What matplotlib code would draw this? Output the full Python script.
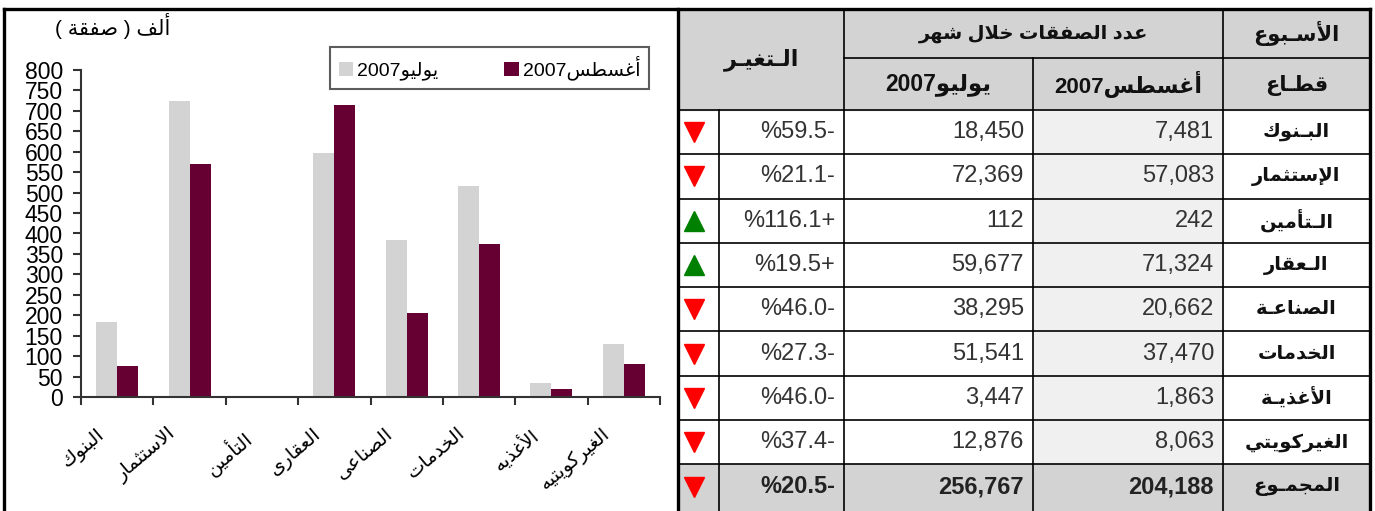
import numpy as np
import matplotlib
matplotlib.use("Agg")
import matplotlib.pyplot as plt
from matplotlib.patches import Rectangle

plt.rcParams['font.family'] = ['Liberation Sans', 'DejaVu Sans']

# data
chart_labels = ['البنوك', 'الاستثمار', 'التأمين', 'العقارى', 'الصناعى', 'الخدمات', 'الأغذيه', 'الغيركويتيه']
table_labels = ['البـنوك', 'الإستثمار', 'الـتأمين', 'الـعقار', 'الصناعـة', 'الخدمات', 'الأغذيـة', 'الغيركويتي']
aug_2007 = [7481, 57083, 242, 71324, 20662, 37470, 1863, 8063]
jul_2007 = [18450, 72369, 112, 59677, 38295, 51541, 3447, 12876]
y_ticks = list(range(0, 801, 50))

GRAY = '#d3d3d3'
MAROON = '#660033'

# --- minimal arabic shaping + rtl ordering (matplotlib has none) ---
_letters = [('ء', 0xFE80, 1), ('آ', 0xFE81, 2), ('أ', 0xFE83, 2), ('ؤ', 0xFE85, 2), ('إ', 0xFE87, 2),
            ('ئ', 0xFE89, 4), ('ا', 0xFE8D, 2), ('ب', 0xFE8F, 4), ('ة', 0xFE93, 2), ('ت', 0xFE95, 4),
            ('ث', 0xFE99, 4), ('ج', 0xFE9D, 4), ('ح', 0xFEA1, 4), ('خ', 0xFEA5, 4), ('د', 0xFEA9, 2),
            ('ذ', 0xFEAB, 2), ('ر', 0xFEAD, 2), ('ز', 0xFEAF, 2), ('س', 0xFEB1, 4), ('ش', 0xFEB5, 4),
            ('ص', 0xFEB9, 4), ('ض', 0xFEBD, 4), ('ط', 0xFEC1, 4), ('ظ', 0xFEC5, 4), ('ع', 0xFEC9, 4),
            ('غ', 0xFECD, 4), ('ف', 0xFED1, 4), ('ق', 0xFED5, 4), ('ك', 0xFED9, 4), ('ل', 0xFEDD, 4),
            ('م', 0xFEE1, 4), ('ن', 0xFEE5, 4), ('ه', 0xFEE9, 4), ('و', 0xFEED, 2), ('ى', 0xFEEF, 2),
            ('ي', 0xFEF1, 4)]
FORMS = {c: (s, n) for c, s, n in _letters}
LAMALEF = {'آ': 0xFEF5, 'أ': 0xFEF7, 'إ': 0xFEF9, 'ا': 0xFEFB}
TATWEEL = 'ـ'


def _joins_next(c):
    return c == TATWEEL or (c in FORMS and FORMS[c][1] == 4)


def _is_ar(c):
    return c == TATWEEL or c in FORMS


def shape(s):
    out = []
    i = 0
    while i < len(s):
        c = s[i]
        jp = i > 0 and _joins_next(s[i - 1])
        if c == 'ل' and i + 1 < len(s) and s[i + 1] in LAMALEF:
            out.append(chr(LAMALEF[s[i + 1]] + (1 if jp else 0)))
            i += 2
            continue
        if c not in FORMS:
            out.append(c)
            i += 1
            continue
        start, n = FORMS[c]
        jn = n == 4 and i + 1 < len(s) and _is_ar(s[i + 1])
        if n == 1:
            f = 0
        elif n == 2:
            f = 1 if jp else 0
        else:
            f = {(False, False): 0, (True, False): 1, (False, True): 2, (True, True): 3}[(jp, jn)]
        out.append(chr(start + f))
        i += 1
    return ''.join(out)


def ar(s):
    s = shape(s)
    runs = []
    for c in s:
        ltr = c in '0123456789'
        if runs and runs[-1][0] == ltr:
            runs[-1][1].append(c)
        else:
            runs.append([ltr, [c]])
    mirror = {'(': ')', ')': '('}
    out = ''
    for ltr, chars in reversed(runs):
        if ltr:
            out += ''.join(chars)
        else:
            out += ''.join(mirror.get(c, c) for c in reversed(chars))
    return out


W, H = 1375, 511
fig = plt.figure(figsize=(W / 100, H / 100), dpi=100)

# ---------------- bar chart ----------------
ax = fig.add_axes([81 / W, 1 - 397 / H, (660 - 81) / W, (397 - 70) / H])
x = np.arange(len(chart_labels))
jul_k = np.array(jul_2007) / 100
aug_k = np.array(aug_2007) / 100
bw = 0.29
ax.bar(x - bw / 2, jul_k, bw, color=GRAY, label=ar('يوليو2007'))
ax.bar(x + bw / 2, aug_k, bw, color=MAROON, label=ar('أغسطس2007'))
ax.set_xlim(-0.5, len(chart_labels) - 0.5)
ax.set_ylim(0, 800)
ax.set_yticks(y_ticks)
ax.set_yticklabels([str(v) for v in y_ticks], fontsize=16.5)
ax.set_xticks(np.arange(len(chart_labels) + 1) - 0.5)
ax.set_xticklabels([])
ax.set_xticks(x - 0.3, minor=True)
ax.set_xticklabels([ar(l) for l in chart_labels], minor=True, rotation=40,
                   ha='right', rotation_mode='anchor', fontsize=14)
ax.tick_params(axis='x', which='minor', length=0, pad=20)
ax.tick_params(axis='x', which='major', length=6, width=1.5, color='#333333')
ax.tick_params(axis='y', length=6, width=1.5, color='#333333', pad=7)
for side in ['top', 'right']:
    ax.spines[side].set_visible(False)
for side in ['left', 'bottom']:
    ax.spines[side].set_color('#333333')
    ax.spines[side].set_linewidth(1.5)

leg = ax.legend(loc='upper left', bbox_to_anchor=(330 / W, 1 - 47 / H), bbox_transform=fig.transFigure,
                ncol=2, fontsize=14, frameon=True, fancybox=False, borderaxespad=0,
                handlelength=0.75, handleheight=0.75, handletextpad=0.2, columnspacing=3.4,
                borderpad=0.45)
leg.get_frame().set_edgecolor('#333333')
leg.get_frame().set_linewidth(1.5)

fig.text(55 / W, 1 - 26 / H, ar('ألف ( صفقة )'), fontsize=15, va='center', ha='left')

# ---------------- table ----------------
tx = fig.add_axes([0, 0, 1, 1])
tx.set_xlim(0, W)
tx.set_ylim(H, 0)
tx.axis('off')

c_left, c_arrow, c_pct, c_jul, c_aug, c_right = 679, 719, 844, 1033, 1223, 1370
top, hmid, hbot = 9, 58, 110
row_h = 44.3
n_rows = len(table_labels) + 1

# backgrounds
tx.add_patch(Rectangle((c_left, top), c_right - c_left, hbot - top, color=GRAY, zorder=0))
for r in range(len(table_labels)):
    tx.add_patch(Rectangle((c_jul, hbot + r * row_h), c_aug - c_jul, row_h, color='#f0f0f0', zorder=0))
tx.add_patch(Rectangle((c_left, hbot + len(table_labels) * row_h), c_right - c_left, row_h + 5,
                       color=GRAY, zorder=0))

lk = dict(color='black', lw=1.2, zorder=2)
for r in range(n_rows):
    yy = hbot + r * row_h
    tx.plot([c_left, c_right], [yy, yy], **lk)
tx.plot([c_pct, c_right], [hmid, hmid], **lk)
tx.plot([c_pct, c_pct], [top, H], **lk)
tx.plot([c_aug, c_aug], [top, H], **lk)
tx.plot([c_jul, c_jul], [hmid, H], **lk)
tx.plot([c_arrow, c_arrow], [hbot, H], **lk)

# outer thick borders
bk = dict(color='black', lw=2.4, zorder=3, solid_capstyle='projecting')
tx.plot([4, c_right], [top, top], **bk)
tx.plot([4, 4], [top, H], **bk)
tx.plot([c_left - 1, c_left - 1], [top, H], **bk)
tx.plot([c_right, c_right], [top, H], **bk)

hk = dict(fontweight='bold', ha='center', va='center', color='#111111', zorder=4)
tx.text((c_aug + c_right) / 2, (top + hmid) / 2, ar('الأسـبوع'), fontsize=15, **hk)
tx.text((c_aug + c_right) / 2, (hmid + hbot) / 2 + 2, ar('قطـاع'), fontsize=15, **hk)
tx.text((c_pct + c_aug) / 2, (top + hmid) / 2, ar('عدد الصفقات خلال شهر'), fontsize=14, **hk)
tx.text((c_pct + c_jul) / 2, (hmid + hbot) / 2, ar('يوليو2007'), fontsize=16.5, **hk)
tx.text((c_jul + c_aug) / 2, (hmid + hbot) / 2, ar('أغسطس2007'), fontsize=16, **hk)
tx.text((c_left + c_pct) / 2, (top + hbot) / 2, ar('الـتغيـر'), fontsize=16, **hk)


def pct(a, j):
    c = (a - j) / j * 100
    return '%' + f'{abs(c):.1f}' + ('+' if c > 0 else '-')


names = table_labels + ['المجمـوع']
augs = aug_2007 + [sum(aug_2007)]
juls = jul_2007 + [sum(jul_2007)]
for r, (nm, a, j) in enumerate(zip(names, augs, juls)):
    yc = hbot + (r + 0.5) * row_h
    total = r == len(table_labels)
    w = 'bold' if total else 'normal'
    col = '#222222' if total else '#333333'
    tx.text((c_aug + c_right) / 2, yc, ar(nm), fontsize=14, fontweight='bold', ha='center', va='center',
            color='#111111', zorder=4)
    tx.text(c_aug - 9, yc, f'{a:,}', fontsize=17, fontweight=w, ha='right', va='center', color=col, zorder=4)
    tx.text(c_jul - 9, yc, f'{j:,}', fontsize=17, fontweight=w, ha='right', va='center', color=col, zorder=4)
    tx.text(c_pct - 9, yc, pct(a, j), fontsize=17, fontweight=w, ha='right', va='center', color=col, zorder=4)
    up = a > j
    tx.plot(694, yc, marker='^' if up else 'v', markersize=14,
            color='#008000' if up else '#ff0000', zorder=4)

fig.savefig('out.png', dpi=100)
